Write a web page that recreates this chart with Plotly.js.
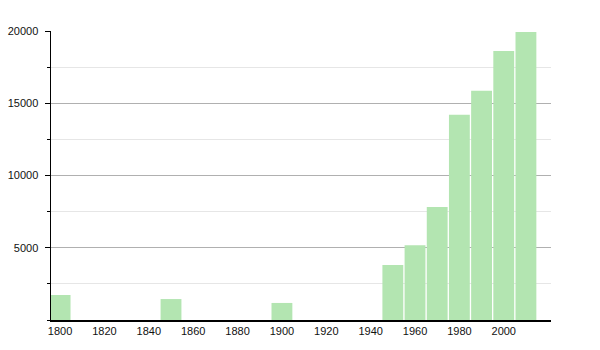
<!DOCTYPE html>
<html>
<head>
<meta charset="utf-8">
<script src="https://cdn.plot.ly/plotly-3.0.1.min.js"></script>
<style>html,body{margin:0;padding:0;background:#fff;}#chart{width:600px;height:350px;}</style>
</head>
<body>
<div id="chart"></div>
<script>
var years = [1800, 1850, 1900, 1950, 1960, 1970, 1980, 1990, 2000, 2010];
var population = [1730, 1450, 1180, 3800, 5170, 7820, 14210, 15870, 18620, 19930];
var xTickVals = [1800, 1820, 1840, 1860, 1880, 1900, 1920, 1940, 1960, 1980, 2000];
var yTickVals = [5000, 10000, 15000, 20000];

var trace = {
  type: 'bar',
  x: years,
  y: population,
  width: 9.4,
  marker: {color: '#b3e5b1', line: {width: 0}},
  hoverinfo: 'x+y'
};

var layout = {
  width: 600, height: 350,
  margin: {l: 51, r: 49, t: 31, b: 30},
  paper_bgcolor: '#ffffff',
  plot_bgcolor: '#ffffff',
  showlegend: false,
  font: {family: 'Liberation Sans, Arial, sans-serif', size: 11, color: '#111'},
  xaxis: {
    range: [1795.9, 2021.3],
    tickvals: xTickVals,
    ticktext: xTickVals.map(String),
    showgrid: false,
    zeroline: false,
    showline: true,
    linecolor: '#000',
    linewidth: 1.5,
    ticks: '',
    tickfont: {size: 11},
    fixedrange: true
  },
  yaxis: {
    range: [0, 20000],
    tickvals: yTickVals,
    ticktext: yTickVals.map(String),
    showgrid: true,
    gridcolor: '#b0b0b0',
    gridwidth: 1,
    zeroline: false,
    showline: true,
    linecolor: '#000',
    linewidth: 1.5,
    ticks: 'outside',
    ticklen: 5,
    tickcolor: '#000',
    ticklabelstandoff: 4,
    tickfont: {size: 11},
    minor: {
      dtick: 2500,
      tick0: 0,
      showgrid: true,
      gridcolor: '#e6e6e6',
      gridwidth: 1,
      ticks: 'outside',
      ticklen: 3,
      tickcolor: '#000'
    },
    fixedrange: true
  }
};

Plotly.newPlot('chart', [trace], layout, {displayModeBar: false, staticPlot: true});
</script>
</body>
</html>
